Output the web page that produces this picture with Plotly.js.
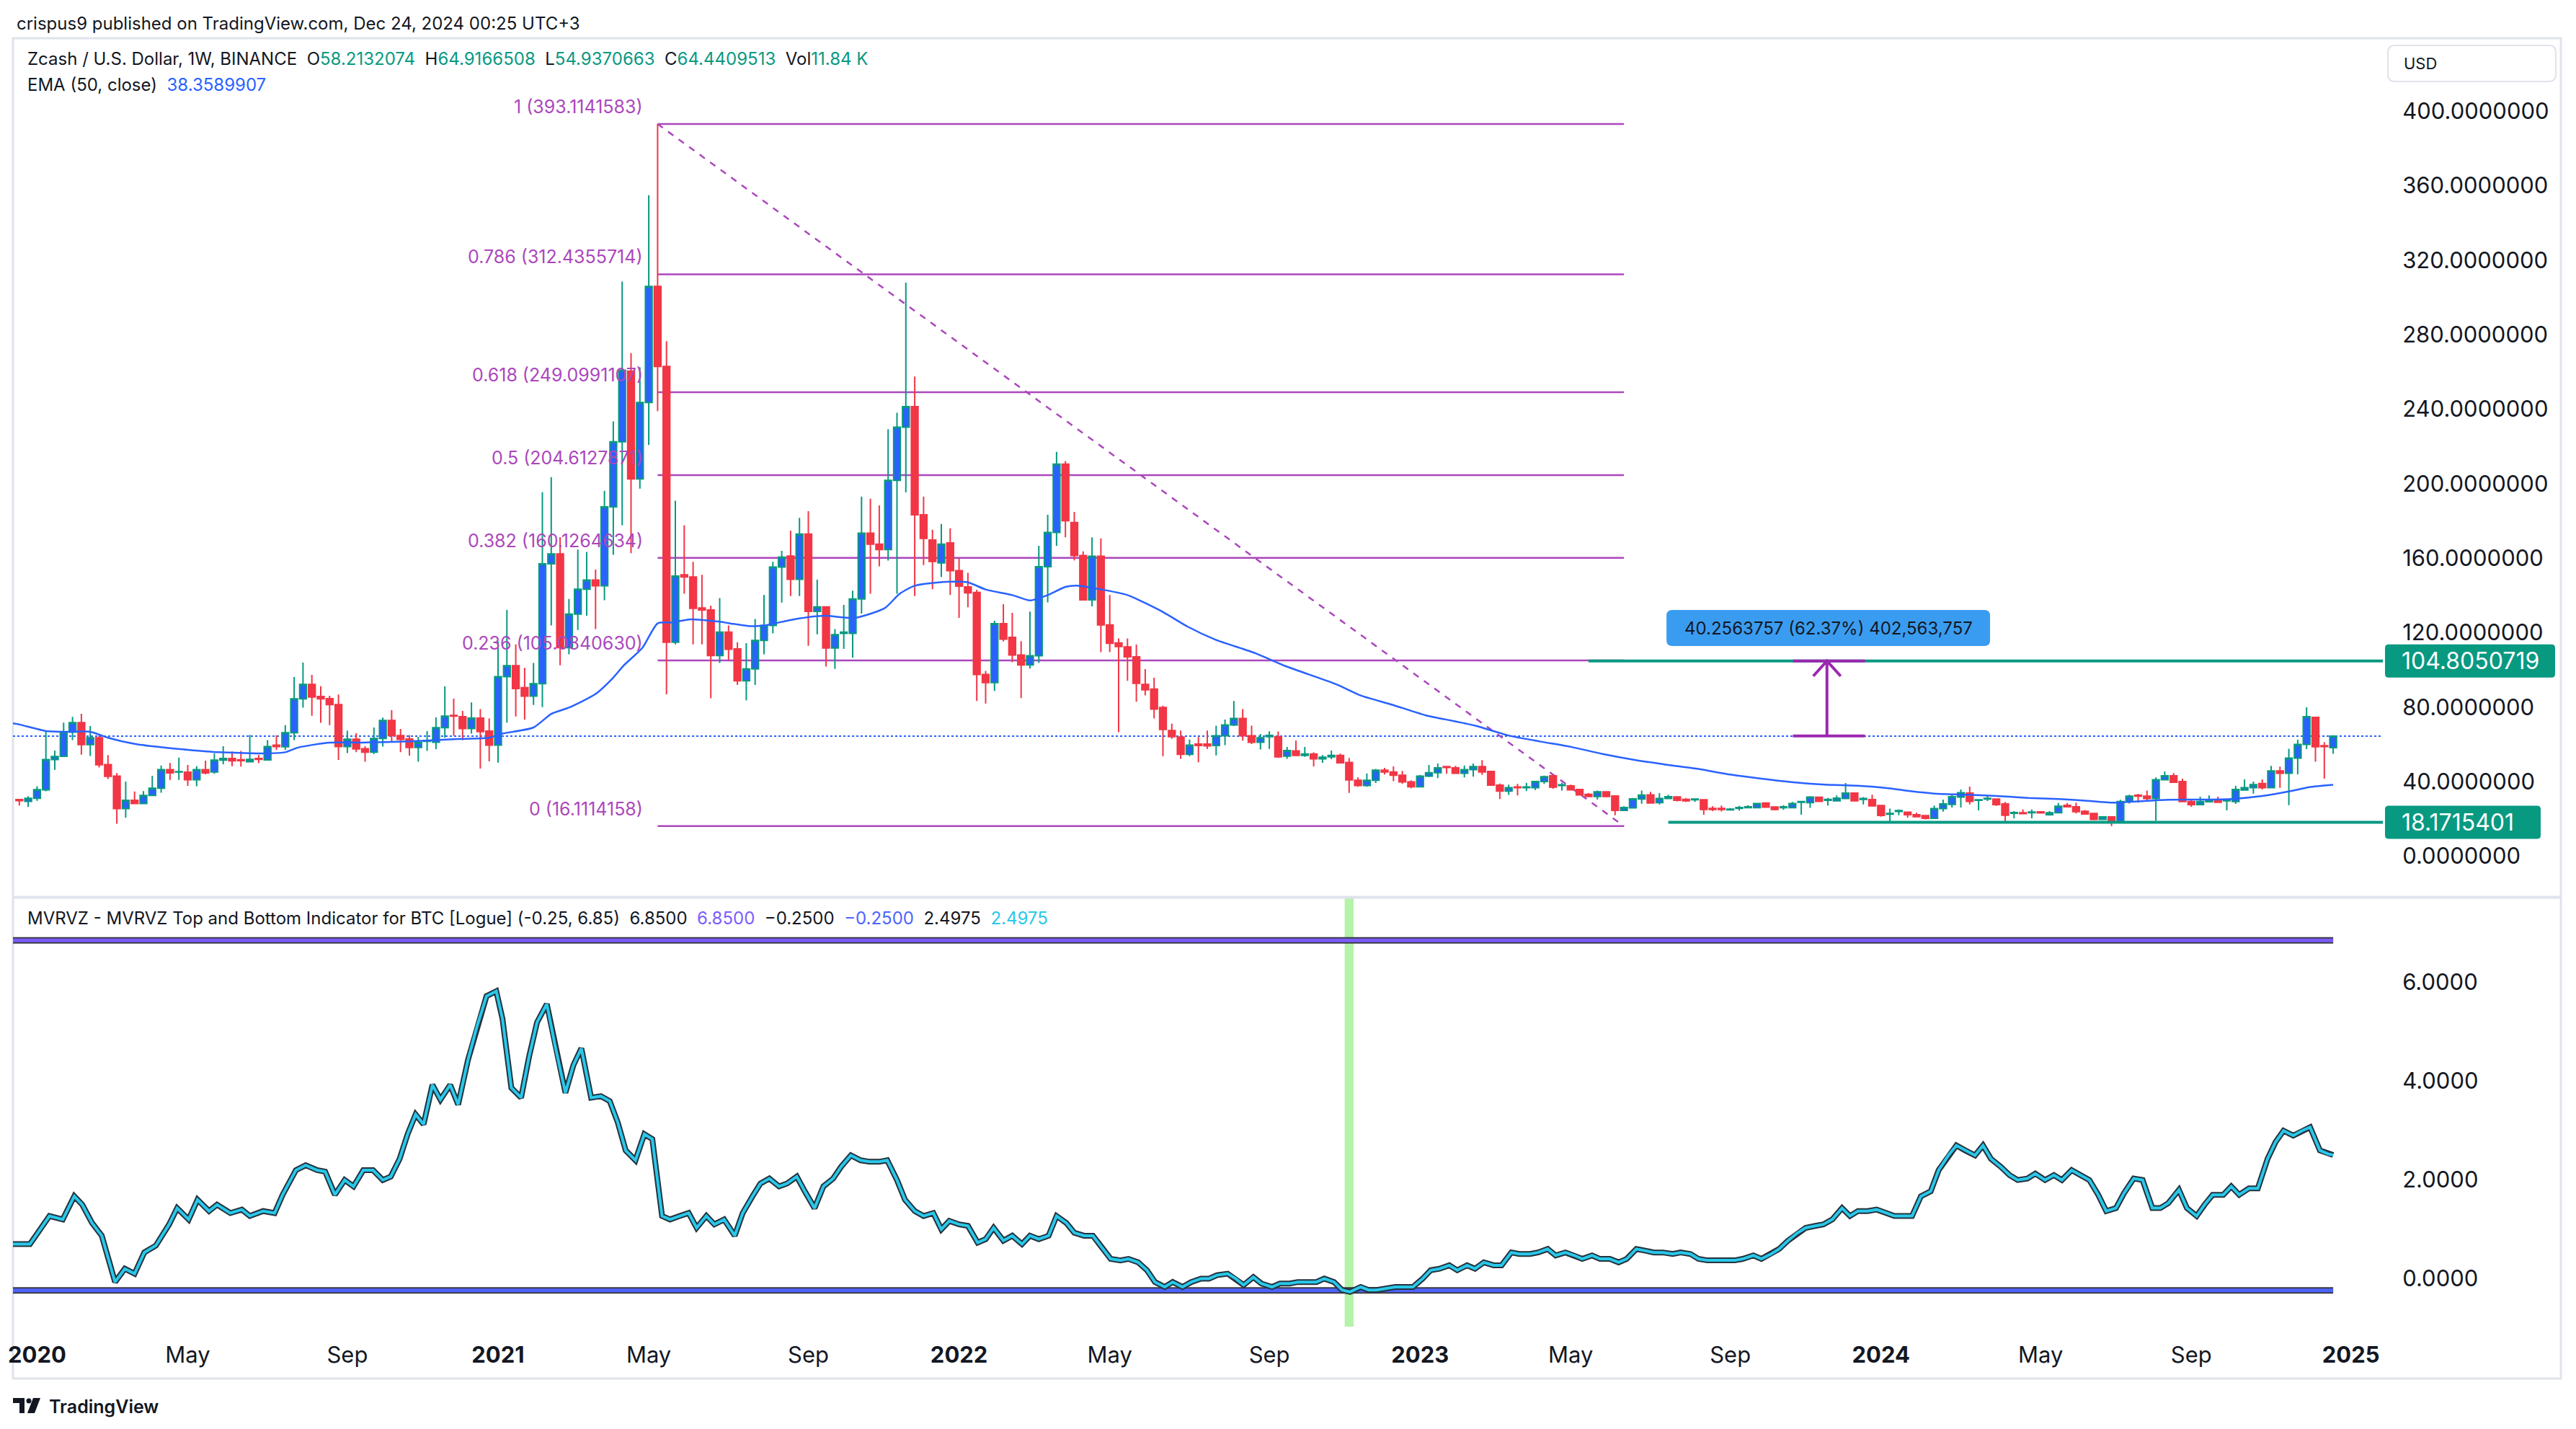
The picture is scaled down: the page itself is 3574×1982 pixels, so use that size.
<!DOCTYPE html>
<html><head><meta charset="utf-8">
<script src="https://cdn.plot.ly/plotly-3.0.1.min.js"></script>
<style>html,body{margin:0;padding:0;background:#fff;}#chart{width:3574px;height:1982px;}</style>
</head><body><div id="chart"></div>
<script>
// ---------------- DATA ----------------
const firstWeek = [2019, 11, 23]; // Monday 2019-12-23 (weekly bars)
const open = [30.4,29.4,31.05,35.6,51.9,53.6,66.6,71.7,59.9,63.6,
49.2,43.0,25.5,30.0,28.3,32.6,36.5,46.5,45.2,45.1,
41.0,46.5,45.2,51.6,52.5,51.8,50.7,52.5,51.7,59.6,
58.7,66.3,84.5,92.2,85.7,84.6,81.4,58.8,62.8,57.7,
55.8,63.2,72.9,64.7,62.9,58.4,61.6,61.2,69.0,75.6,
74.9,68.5,74.1,67.2,59.6,96.4,102.3,90.5,85.9,92.6,
157.0,162.3,112.0,130.0,143.3,148.3,145.2,187.6,222.5,260.4,
202.6,243.6,305.9,263.0,114.9,151.1,149.9,133.3,132.2,107.7,
120.3,111.3,94.2,100.6,115.8,123.9,155.2,161.1,148.7,172.9,
131.4,133.8,111.8,119.6,119.6,138.1,173.4,167.5,164.6,201.8,
230.3,241.4,183.3,169.8,157.5,168.2,153.3,144.6,141.6,97.6,
93.2,124.8,117.5,108.0,102.7,107.6,155.4,173.8,210.5,179.1,
161.4,137.6,161.0,124.2,114.5,112.4,107.0,92.2,89.7,79.8,
67.5,64.0,54.7,60.2,60.2,59.4,64.6,70.5,73.9,64.6,
61.2,64.2,64.2,53.7,56.5,54.1,54.9,52.3,53.3,54.1,
50.3,40.7,37.9,40.7,46.2,45.2,43.5,39.9,37.3,43.0,
44.8,48.1,47.4,44.5,46.5,48.1,45.5,38.1,34.9,37.2,
36.8,36.8,40.1,43.2,37.9,37.7,35.8,33.2,32.0,34.5,
32.3,24.6,25.9,30.7,32.9,28.7,31.0,31.8,30.5,30.3,
30.3,25.6,25.6,24.9,25.6,26.0,26.0,28.5,26.4,26.0,
26.0,28.9,28.7,31.6,30.0,29.7,31.0,33.9,30.5,30.4,
27.2,22.5,24.0,23.6,22.3,21.8,20.3,25.5,27.8,31.7,
33.9,30.0,30.7,30.7,28.1,23.0,23.3,23.3,23.8,22.3,
23.3,27.3,26.5,24.1,22.9,19.7,21.1,18.6,29.3,32.7,
32.2,31.0,41.0,43.2,40.1,29.3,27.7,29.2,30.4,29.7,
29.3,35.5,36.8,39.0,36.8,45.8,44.5,52.6,60.0,74.5,
59.3,58.2132074];
const high = [30.6,32.2,37.5,67.0,56.7,71.7,74.8,76.5,69.9,64.7,
54.3,44.6,40.1,34.7,34.9,43.2,48.7,50.0,52.9,49.0,
48.3,51.3,55.2,59.0,56.2,56.5,65.1,54.3,62.3,64.9,
70.4,96.2,103.9,97.4,91.3,86.1,86.8,67.4,66.0,59.0,
69.1,74.4,78.4,68.3,64.9,64.1,67.2,74.5,91.2,84.6,
78.0,82.6,79.0,73.9,115.4,132.2,113.7,101.1,103.7,195.4,
203.5,171.3,138.1,164.6,163.4,153.9,196.2,233.4,308.5,270.1,
262.5,354.9,393.1141583,276.5,190.9,177.7,158.0,151.1,134.5,138.6,
123.9,114.9,114.4,127.4,140.2,158.0,163.9,174.8,181.7,185.2,
148.5,133.8,121.9,134.9,142.6,193.1,191.9,188.3,229.3,238.1,
308.0,257.5,193.1,175.3,178.4,176.0,159.9,152.1,143.0,99.5,
126.4,135.3,130.7,115.5,131.3,166.7,183.3,217.1,212.1,184.9,
163.7,171.2,170.6,140.2,116.9,116.9,113.6,100.5,95.8,80.8,
71.1,67.5,62.6,64.0,67.5,70.1,73.4,83.3,79.0,70.1,
65.6,67.1,67.0,58.6,62.0,58.6,55.7,54.3,56.7,55.1,
52.7,42.3,44.4,46.8,47.4,48.2,45.8,40.7,43.6,49.0,
49.7,48.5,48.5,48.7,49.7,51.6,45.5,39.0,38.4,38.8,
39.4,40.3,43.3,43.6,39.4,38.4,36.2,33.9,35.2,34.9,
32.3,26.8,31.3,35.2,34.5,33.9,33.0,31.8,31.3,30.9,
30.3,26.8,27.2,25.8,27.0,27.4,28.5,28.5,26.7,27.4,
29.1,29.4,32.2,32.0,31.3,32.6,39.3,33.9,31.7,33.0,
27.4,25.5,25.1,23.8,23.3,21.8,27.2,30.4,33.2,35.8,
37.4,30.3,32.6,30.7,29.1,24.2,25.1,25.1,24.2,24.2,
28.5,28.5,28.7,24.8,23.3,21.4,21.4,30.3,33.0,33.5,
35.2,42.3,45.5,44.6,41.6,30.6,31.9,32.6,31.9,30.6,
37.7,41.2,40.1,41.2,48.5,48.1,57.7,62.5,79.9,74.9,
61.2,64.9166508];
const low = [27.2,26.4,29.7,34.8,46.4,53.4,62.3,54.5,53.8,47.6,
41.4,17.4,20.7,28.3,27.9,32.6,34.1,40.9,40.9,37.7,
37.5,43.9,44.2,49.4,48.3,48.1,50.7,49.9,51.4,57.1,
57.1,62.3,79.7,75.4,71.6,70.4,51.7,55.4,55.8,50.7,
54.9,58.8,61.0,55.8,54.0,50.7,56.5,57.5,63.6,64.6,
62.3,65.8,47.0,50.9,50.2,71.7,75.0,73.4,81.2,80.0,
123.9,102.5,108.4,121.5,129.1,121.9,137.4,161.8,177.7,162.7,
197.3,220.8,239.0,86.9,113.7,140.9,113.7,113.7,84.8,103.7,
105.4,91.9,83.6,91.9,108.4,119.6,136.2,139.7,139.7,112.9,
119.1,101.8,100.6,111.3,106.6,130.3,140.9,155.6,158.7,140.9,
195.4,139.7,156.3,143.3,149.9,140.2,127.9,133.7,83.3,82.0,
88.7,115.3,104.1,84.9,100.7,103.7,136.3,166.7,171.2,158.8,
137.6,134.1,109.6,109.6,66.6,94.2,82.9,86.3,73.9,53.7,
63.0,52.3,53.7,50.4,57.6,54.1,59.6,69.9,62.0,60.2,
57.3,57.6,52.7,52.3,54.1,53.3,48.2,50.1,52.1,49.8,
34.0,37.3,37.3,39.3,43.8,40.3,38.9,36.5,37.1,42.5,
41.9,44.2,44.2,42.3,42.7,43.6,37.7,30.7,32.9,32.6,
34.9,35.5,38.8,36.2,35.2,35.6,32.6,31.7,30.4,31.7,
22.0,24.2,25.6,28.2,28.2,27.8,31.0,29.4,29.1,29.1,
22.3,24.2,24.0,24.6,24.5,25.7,25.9,26.1,24.6,24.9,
25.9,22.3,25.9,29.1,27.2,29.4,30.7,29.6,27.8,27.0,
21.2,18.4,22.0,20.7,21.2,19.7,20.3,23.9,26.1,26.1,
27.8,24.6,29.6,27.0,18.6,20.3,22.8,20.3,23.2,21.8,
23.3,26.5,22.9,22.3,19.3,19.7,16.2,18.6,28.3,28.7,
29.7,19.0,40.6,39.7,29.3,26.5,27.7,29.0,28.5,24.6,
28.1,35.2,33.6,35.8,36.5,36.7,27.4,43.9,57.5,50.7,
41.6,54.9370663];
const close = [29.8,31.05,35.7,51.9,53.5,66.6,71.7,59.9,63.6,49.1,
42.9,25.5,30.0,28.3,32.6,36.5,46.5,44.7,45.4,41.0,
46.5,44.7,51.6,52.5,51.2,51.3,52.0,52.0,58.8,58.8,
66.3,84.5,92.2,85.5,84.5,81.4,58.8,62.8,57.6,55.8,
63.2,72.9,64.7,62.7,58.4,61.0,62.1,69.0,75.2,75.2,
68.5,74.1,66.9,59.6,96.4,102.3,90.0,85.9,92.6,157.0,
162.3,112.0,130.0,143.3,148.3,145.2,187.6,222.5,260.9,202.6,
243.6,305.9,263.0,114.9,150.4,149.9,133.1,132.2,107.7,120.3,
111.1,94.2,100.6,115.8,123.9,155.2,160.6,148.7,172.9,131.4,
133.8,111.8,118.9,120.3,138.1,173.4,167.5,164.6,201.8,230.3,
241.4,183.3,170.6,158.2,167.5,153.3,145.0,141.4,97.6,93.2,
124.8,116.5,108.0,102.7,107.6,155.4,173.8,210.5,180.1,161.4,
137.6,161.0,124.2,114.3,112.6,107.0,92.8,89.3,79.0,68.0,
64.2,54.7,59.6,59.4,59.2,64.6,70.5,73.9,64.6,61.2,
63.6,64.8,53.3,56.7,54.1,54.9,52.3,53.1,54.1,50.1,
40.9,37.9,40.7,46.2,45.2,43.5,39.9,37.3,43.0,44.8,
47.4,47.6,44.5,46.5,48.1,45.2,38.1,34.9,36.8,36.8,
37.2,40.1,42.7,37.1,38.3,35.6,32.9,32.0,34.5,32.0,
24.6,26.1,30.8,32.8,28.5,31.0,31.9,30.0,29.7,30.7,
25.1,25.1,25.1,25.3,26.1,26.5,28.3,26.3,25.1,26.5,
28.3,29.3,31.7,29.4,30.5,31.2,33.9,29.7,31.0,27.0,
21.9,22.9,24.5,22.3,21.2,20.3,25.5,28.1,31.9,34.1,
29.4,30.3,31.1,27.7,22.0,23.4,22.8,23.7,23.2,23.3,
26.8,26.5,23.9,22.6,19.7,21.1,18.6,29.3,32.2,32.2,
31.0,41.0,43.2,39.7,29.3,27.7,29.3,30.2,28.9,30.0,
35.8,36.8,38.4,36.8,45.8,44.5,52.6,60.0,74.9,58.7,
58.8,64.4409513];

// EMA(50): bar index -> value
const emaWeek = [-1,0,3,5,8,10,13,15.4,19,22.5,28,30,31.5,35,38.6,44,49.4,53,54.5,58,60,62,65,67,68.2,70.3,72,73.7,75.7,78.8,82.2,84,87.4,90.8,94.2,97.6,99.3,101,104.5,107,109,112,114,116,118,119.5,122.3,125,129,131.8,134.9,139.4,142.8,148.6,151.3,154.8,158.8,160.8,164.3,167.9,171.5,175,178.6,182.2,185.8,189.4,193,196.5,200.1,203.7,207.3,210.8,213.3,216,219.5,223,226.6,230.1,233.6,236.4,238.9,242.4,246,249.5,253,256.5,258.3,261];
const emaVal = [71.5,70.7,67.2,66.8,66.8,63.6,60.3,58.8,57.1,55.8,55.2,55.8,58.4,61.0,61.0,61.6,62.9,63.6,65.8,69.1,76.4,79.8,87.1,95.9,102.5,112.0,125.0,125.5,127.2,126.0,123.6,123.9,127.2,129.1,127.9,133.1,140.9,145.2,147.3,147.0,143.2,140.2,137.3,140.2,144.6,145.2,143.0,140.2,131.1,123.2,116.3,109.0,102.1,92.2,86.3,81.4,75.4,73.5,70.0,64.9,61.6,58.7,54.9,51.7,49.1,46.8,43.8,41.6,39.7,38.4,37.8,36.5,34.9,33.6,33.0,32.3,31.3,30.7,29.6,28.7,29.4,30.3,30.4,30.7,32.3,35.2,37.1,38.3589907];

// MVRVZ (BTC): bar index -> value
const mvrvWeek = [-1.5,-0.3,1.2,3.4,4.9,6.2,7.1,8.2,9.3,10.8,11.9,13.0,14.1,15.4,16.9,17.8,19.1,20.1,21.4,22.3,23.8,25.1,26.0,27.5,28.8,29.7,31.2,32.3,33.6,34.5,35.6,36.7,37.7,38.8,39.9,41.0,41.9,42.9,43.8,44.7,45.6,46.6,47.5,48.6,49.5,50.6,51.6,52.7,53.8,54.5,55.5,56.6,57.5,58.4,59.5,60.5,61.6,62.5,63.4,64.5,65.6,66.6,67.5,68.4,69.5,70.5,71.4,72.5,73.4,74.5,75.5,76.4,77.5,78.4,79.5,80.7,81.6,82.7,83.6,84.6,85.7,86.6,87.7,88.6,89.7,90.7,91.8,92.7,93.8,94.9,95.9,97.0,97.9,99.0,99.9,101.0,102.0,103.1,104.0,104.9,106.0,107.0,108.1,109.0,109.9,111.0,112.0,113.1,114.0,115.0,116.1,117.0,118.1,119.0,120.1,121.1,122.2,123.1,124.2,125.1,126.2,127.2,128.1,129.2,130.1,131.2,132.2,133.3,134.2,135.1,136.3,137.2,138.1,139.2,140.1,141.3,142.2,143.3,144.2,145.1,146.3,147.2,148.3,149.2,150.1,151.3,152.2,153.1,154.2,155.2,156.3,157.2,158.3,159.2,160.2,161.3,162.2,163.3,164.2,165.2,166.3,167.2,168.3,169.2,170.4,171.3,172.4,173.3,174.4,175.4,176.3,177.4,178.3,179.4,180.4,181.3,182.4,183.3,184.4,185.4,186.5,187.4,188.5,189.4,190.4,191.5,192.4,193.5,194.4,195.6,196.5,197.6,198.5,199.5,200.6,201.5,202.6,203.5,204.5,205.6,206.5,207.4,208.5,209.5,210.6,211.5,212.4,213.5,214.5,215.6,216.5,217.6,218.5,219.5,220.6,221.5,222.4,223.5,224.5,225.4,226.5,227.4,228.5,229.5,230.4,231.5,232.5,233.5,234.5,235.4,236.5,237.4,238.5,239.5,240.6,241.5,242.4,243.6,244.5,245.6,246.5,247.4,248.6,249.5,250.4,251.5,252.5,253.6,254.5,255.4,256.5,257.5,258.4,259.5,260.4,261.0];
const mvrvVal = [0.69,0.69,0.69,1.26,1.19,1.66,1.49,1.12,0.86,-0.08,0.19,0.09,0.52,0.66,1.09,1.42,1.19,1.59,1.36,1.49,1.32,1.39,1.26,1.36,1.32,1.69,2.19,2.29,2.19,2.16,1.69,1.99,1.86,2.19,2.19,1.99,2.06,2.42,2.92,3.32,3.12,3.92,3.62,3.92,3.52,4.42,5.09,5.72,5.82,5.26,3.86,3.66,4.49,5.19,5.56,4.66,3.76,4.32,4.66,3.66,3.69,3.59,3.16,2.59,2.39,2.92,2.82,1.26,1.19,1.26,1.32,1.02,1.26,1.09,1.19,0.86,1.32,1.66,1.92,2.02,1.86,1.92,2.06,1.76,1.42,1.86,2.02,2.26,2.49,2.39,2.36,2.36,2.39,1.99,1.59,1.36,1.26,1.32,0.99,1.16,1.09,1.06,0.72,0.79,1.02,0.76,0.86,0.69,0.86,0.79,0.86,1.26,1.12,0.92,0.86,0.86,0.59,0.39,0.36,0.39,0.32,0.16,-0.08,-0.18,-0.08,-0.18,-0.08,-0.01,-0.01,0.06,0.09,-0.01,-0.14,0.02,-0.11,-0.18,-0.11,-0.11,-0.08,-0.08,-0.08,-0.01,-0.08,-0.24,-0.28,-0.18,-0.24,-0.24,-0.21,-0.18,-0.18,-0.18,-0.01,0.16,0.19,0.26,0.16,0.26,0.19,0.32,0.26,0.26,0.52,0.49,0.49,0.52,0.59,0.46,0.52,0.46,0.39,0.46,0.39,0.39,0.32,0.39,0.59,0.56,0.52,0.52,0.49,0.52,0.49,0.39,0.36,0.36,0.36,0.36,0.39,0.46,0.39,0.49,0.59,0.76,0.92,1.02,1.06,1.09,1.19,1.42,1.26,1.36,1.36,1.39,1.32,1.26,1.26,1.26,1.66,1.76,2.19,2.49,2.69,2.59,2.49,2.69,2.42,2.26,2.09,1.99,2.02,2.12,1.99,2.09,1.99,2.19,2.09,1.99,1.69,1.36,1.42,1.72,2.02,1.99,1.42,1.42,1.52,1.79,1.42,1.26,1.49,1.69,1.69,1.86,1.69,1.82,1.82,2.42,2.76,2.99,2.89,2.99,3.06,2.59,2.52,2.4975];
const mvrvTop = 6.85, mvrvBottom = -0.25;
const mvrvBottomSignalWeek = 150;

const fibRatios = [1, 0.786, 0.618, 0.5, 0.382, 0.236, 0];
const fibHigh = 393.1141583, fibLow = 16.1114158;
const fibStartWeek = 72, fibEndWeek = 181;

const resistance = 104.8050719, support = 18.1715401;
const rangeLow = 64.5487, rangeText = '40.2563757 (62.37%) 402,563,757';
const lastPrice = 64.4409513;

const priceTicks = [0,40,80,120,160,200,240,280,320,360,400];
const mvrvTicks = [0,2,4,6];
const timeTickDates = ['2020-01-06','2020-05-04','2020-09-07','2021-01-04','2021-05-03','2021-09-06','2022-01-03','2022-05-02','2022-09-05','2023-01-02','2023-05-01','2023-09-04','2024-01-01','2024-05-06','2024-09-02','2025-01-06'];
const timeTickText = ['2020','May','Sep','2021','May','Sep','2022','May','Sep','2023','May','Sep','2024','May','Sep','2025'];

// ---------------- LAYOUT GEOMETRY ----------------
const W = 3574, H = 1982;
const plotL = 18, plotR = 3306;
const bar0Px = 26.8, barPx = 12.3;         // px position of bar 0, px per week
const mainTop = 53, mainBot = 1243, subTop = 1246, subBot = 1840;
const priceMin = -21.49, priceMax = 439.2;
const mvMin = -0.984, mvMax = 7.703;
const FONT = 'Inter, "Noto Sans", sans-serif';
const TXT = '#131722';

const DAY = 86400000;
const t0 = Date.UTC(firstWeek[0], firstWeek[1], firstWeek[2]);
function wdate(i){ return new Date(t0 + i*7*DAY).toISOString().replace('T',' ').replace('Z',''); }
const xRange = [wdate((plotL - bar0Px)/barPx), wdate((plotR - bar0Px)/barPx)];
const PX = x => (x - plotL)/(plotR - plotL);
const PY = y => 1 - y/H;
const idxPx = i => bar0Px + barPx*i;
const pricePx = p => mainTop + (priceMax - p)/(priceMax - priceMin)*(mainBot - mainTop);

function rr(x0,y0,x1,y1,r){
  return `M${PX(x0+r)},${PY(y0)} L${PX(x1-r)},${PY(y0)} Q${PX(x1)},${PY(y0)} ${PX(x1)},${PY(y0+r)} L${PX(x1)},${PY(y1-r)} Q${PX(x1)},${PY(y1)} ${PX(x1-r)},${PY(y1)} L${PX(x0+r)},${PY(y1)} Q${PX(x0)},${PY(y1)} ${PX(x0)},${PY(y1-r)} L${PX(x0)},${PY(y0+r)} Q${PX(x0)},${PY(y0)} ${PX(x0+r)},${PY(y0)} Z`;
}
function poly(pts){ return 'M' + pts.map(p => PX(p[0]) + ',' + PY(p[1])).join(' L') + ' Z'; }

const dates = open.map((_, i) => wdate(i));

// ---------------- TRACES ----------------
const traces = [];
traces.push({
  type:'candlestick', x: dates, open, high, low, close, xaxis:'x', yaxis:'y',
  increasing:{line:{color:'#089981', width:2}, fillcolor:'#2962ff'},
  decreasing:{line:{color:'#f23645', width:2}, fillcolor:'#f23645'},
  whiskerwidth:0, hoverinfo:'skip', showlegend:false
});
traces.push({type:'scatter', mode:'lines', x: emaWeek.map(wdate), y: emaVal, xaxis:'x', yaxis:'y',
  line:{color:'#2962ff', width:2.5, shape:'spline', smoothing:0.6}, hoverinfo:'skip', showlegend:false});

const nMv = Math.min(mvrvWeek.length, mvrvVal.length);
const mvX = mvrvWeek.slice(0,nMv).map(wdate), mvY = mvrvVal.slice(0,nMv);
const hx = [wdate(-3), wdate(261)];
[[mvrvTop,'#7b5cff'],[mvrvBottom,'#4d63ff']].forEach(([v,c])=>{
  traces.push({type:'scatter',mode:'lines',x:hx,y:[v,v],xaxis:'x',yaxis:'y2',line:{color:'#3b3b45',width:9},hoverinfo:'skip',showlegend:false});
  traces.push({type:'scatter',mode:'lines',x:hx,y:[v,v],xaxis:'x',yaxis:'y2',line:{color:c,width:5},hoverinfo:'skip',showlegend:false});
});
traces.push({type:'scatter',mode:'lines',x:mvX,y:mvY,xaxis:'x',yaxis:'y2',line:{color:'#24323d',width:8},hoverinfo:'skip',showlegend:false});
traces.push({type:'scatter',mode:'lines',x:mvX,y:mvY,xaxis:'x',yaxis:'y2',line:{color:'#29c8ea',width:4},hoverinfo:'skip',showlegend:false});

// ---------------- SHAPES ----------------
const shapes = [];
shapes.push({type:'rect', xref:'paper', yref:'paper', x0:PX(18), x1:PX(3553), y0:PY(1912), y1:PY(53), line:{color:'#e0e3eb', width:3}, fillcolor:'rgba(0,0,0,0)', layer:'below'});
shapes.push({type:'line', xref:'paper', yref:'paper', x0:PX(18), x1:PX(3553), y0:PY(1244.5), y1:PY(1244.5), line:{color:'#e0e3eb', width:4}});
shapes.push({type:'rect', xref:'x', yref:'paper', x0:wdate(mvrvBottomSignalWeek-0.5), x1:wdate(mvrvBottomSignalWeek+0.5), y0:PY(subBot), y1:PY(subTop), fillcolor:'#b4f3a8', line:{width:0}, layer:'below'});
shapes.push({type:'line', xref:'paper', yref:'y', x0:0, x1:1, y0:lastPrice, y1:lastPrice, line:{color:'#2962ff', width:2, dash:'dot'}, layer:'below'});
fibRatios.forEach(r => {
  const p = fibLow + r*(fibHigh - fibLow);
  shapes.push({type:'line', xref:'x', yref:'y', x0:wdate(fibStartWeek), x1:wdate(fibEndWeek), y0:p, y1:p, line:{color:'#ab47bc', width:2.5}, layer:'below'});
});
shapes.push({type:'line', xref:'x', yref:'y', x0:wdate(fibStartWeek), x1:wdate(fibEndWeek), y0:fibHigh, y1:fibLow, line:{color:'#ab47bc', width:2.5, dash:'dash'}, layer:'below'});
shapes.push({type:'line', xref:'x', yref:'y', x0:wdate(177), x1:xRange[1], y0:resistance, y1:resistance, line:{color:'#089981', width:4}});
shapes.push({type:'line', xref:'x', yref:'y', x0:wdate(186), x1:xRange[1], y0:support, y1:support, line:{color:'#089981', width:4}});
const arW = 203.9, capA = 200.06, capB = 208.18;
shapes.push({type:'line', xref:'x', yref:'y', x0:wdate(capA), x1:wdate(capB), y0:resistance, y1:resistance, line:{color:'#9c27b0', width:4}});
shapes.push({type:'line', xref:'x', yref:'y', x0:wdate(capA), x1:wdate(capB), y0:rangeLow, y1:rangeLow, line:{color:'#9c27b0', width:4}});
shapes.push({type:'line', xref:'x', yref:'y', x0:wdate(arW), x1:wdate(arW), y0:rangeLow, y1:resistance, line:{color:'#9c27b0', width:4}});
const tipX = idxPx(arW), tipY = pricePx(resistance);
shapes.push({type:'path', xref:'paper', yref:'paper', path:`M${PX(tipX-19)},${PY(tipY+21)} L${PX(tipX)},${PY(tipY)} L${PX(tipX+19)},${PY(tipY+21)}`, line:{color:'#9c27b0', width:4}});
shapes.push({type:'path', xref:'paper', yref:'paper', path: rr(idxPx(185.8), 846, idxPx(222.3), 896, 8), fillcolor:'#3a9cf0', line:{width:0}});
const rY = pricePx(resistance), sY = pricePx(support);
shapes.push({type:'path', xref:'paper', yref:'paper', path: rr(3309, rY-23, 3545, rY+23, 5), fillcolor:'#089981', line:{width:0}});
shapes.push({type:'path', xref:'paper', yref:'paper', path: rr(3309, sY-23, 3525, sY+23, 5), fillcolor:'#089981', line:{width:0}});
shapes.push({type:'path', xref:'paper', yref:'paper', path: rr(3313, 63, 3546, 113, 10), fillcolor:'#ffffff', line:{color:'#e0e3eb', width:2}});
shapes.push({type:'path', xref:'paper', yref:'paper', path: poly([[18,1939],[34,1939],[34,1960],[27,1960],[27,1946],[18,1946]]), fillcolor:TXT, line:{width:0}});
shapes.push({type:'circle', xref:'paper', yref:'paper', x0:PX(36.5), x1:PX(43.5), y0:PY(1946.5), y1:PY(1939.5), fillcolor:TXT, line:{width:0}});
shapes.push({type:'path', xref:'paper', yref:'paper', path: poly([[46,1939],[56,1939],[48,1960],[38,1960]]), fillcolor:TXT, line:{width:0}});

// ---------------- ANNOTATIONS ----------------
const ann = [];
const A = (o) => ann.push(Object.assign({showarrow:false, xref:'paper', yref:'paper', xanchor:'left', yanchor:'middle'}, o));
const sp = '\u00A0\u00A0';
const teal = s => `<span style="color:#089981">${s}</span>`;
A({x:PX(21), y:PY(32), text:'crispus9 published on TradingView.com, Dec 24, 2024 00:25 UTC+3', font:{family:FONT, size:24, color:TXT}});
A({x:PX(36), y:PY(81), text:`Zcash / U.S. Dollar, 1W, BINANCE${sp}O${teal('58.2132074')}${sp}H${teal('64.9166508')}${sp}L${teal('54.9370663')}${sp}C${teal('64.4409513')}${sp}Vol${teal('11.84\u00A0K')}`, font:{family:FONT, size:24, color:TXT}});
A({x:PX(36), y:PY(118), text:`EMA (50, close)${sp}<span style="color:#2962ff">38.3589907</span>`, font:{family:FONT, size:24, color:TXT}});
A({x:PX(36), y:PY(1273), text:`MVRVZ - MVRVZ Top and Bottom Indicator for BTC [Logue] (-0.25, 6.85)${sp}6.8500${sp}<span style="color:#7b5cff">6.8500</span>${sp}\u22120.2500${sp}<span style="color:#4d63ff">\u22120.2500</span>${sp}2.4975${sp}<span style="color:#29c8ea">2.4975</span>`, font:{family:FONT, size:24, color:TXT}});
A({x:PX(3333), y:PY(88), text:'USD', font:{family:FONT, size:22, color:TXT}});
A({x:PX(3330), y:PY(rY), text:resistance.toFixed(7), font:{family:FONT, size:32, color:'#ffffff'}});
A({x:PX(3330), y:PY(sY), text:support.toFixed(7), font:{family:FONT, size:32, color:'#ffffff'}});
A({x:PX(idxPx(204.05)), y:PY(871), xanchor:'center', text:rangeText, font:{family:FONT, size:24, color:TXT}});
A({x:PX(66), y:PY(1951), text:'TradingView', font:{family:FONT, size:25, color:TXT, weight:600}});
fibRatios.forEach(r => {
  const p = fibLow + r*(fibHigh - fibLow);
  ann.push({showarrow:false, xref:'x', yref:'y', x:wdate(fibStartWeek), y:p, xanchor:'right', yanchor:'middle', xshift:-18, yshift:24,
    text:`${r} (${p.toFixed(7)})`, font:{family:FONT, size:25, color:'#ab47bc'}});
});

// ---------------- LAYOUT ----------------
const layout = {
  width:W, height:H, margin:{l:plotL, r:W-plotR, t:0, b:0, pad:0},
  paper_bgcolor:'#ffffff', plot_bgcolor:'#ffffff', showlegend:false, hovermode:false,
  boxgap:0.24, boxgroupgap:0,
  font:{family:FONT, color:TXT},
  xaxis:{type:'date', range:xRange, anchor:'y2', showgrid:false, zeroline:false, showline:false,
    rangeslider:{visible:false}, tickmode:'array', tickvals:timeTickDates,
    ticktext:timeTickText.map(t => /^\d{4}$/.test(t) ? `<b>${t}</b>` : t),
    ticks:'outside', ticklen:12, tickcolor:'rgba(0,0,0,0)', tickfont:{family:FONT, size:31, color:TXT}},
  yaxis:{domain:[PY(mainBot), PY(mainTop)], range:[priceMin, priceMax], side:'right', anchor:'x', showgrid:false, zeroline:false, showline:false,
    tickmode:'array', tickvals:priceTicks, ticktext:priceTicks.map(v => v.toFixed(7)),
    ticks:'outside', ticklen:20, tickcolor:'rgba(0,0,0,0)', tickfont:{family:FONT, size:31, color:TXT}},
  yaxis2:{domain:[PY(subBot), PY(subTop)], range:[mvMin, mvMax], side:'right', anchor:'x', showgrid:false, zeroline:false, showline:false,
    tickmode:'array', tickvals:mvrvTicks, ticktext:mvrvTicks.map(v => v.toFixed(4)),
    ticks:'outside', ticklen:20, tickcolor:'rgba(0,0,0,0)', tickfont:{family:FONT, size:31, color:TXT}},
  shapes, annotations: ann
};
Plotly.newPlot('chart', traces, layout, {displayModeBar:false, staticPlot:true});
</script></body></html>
